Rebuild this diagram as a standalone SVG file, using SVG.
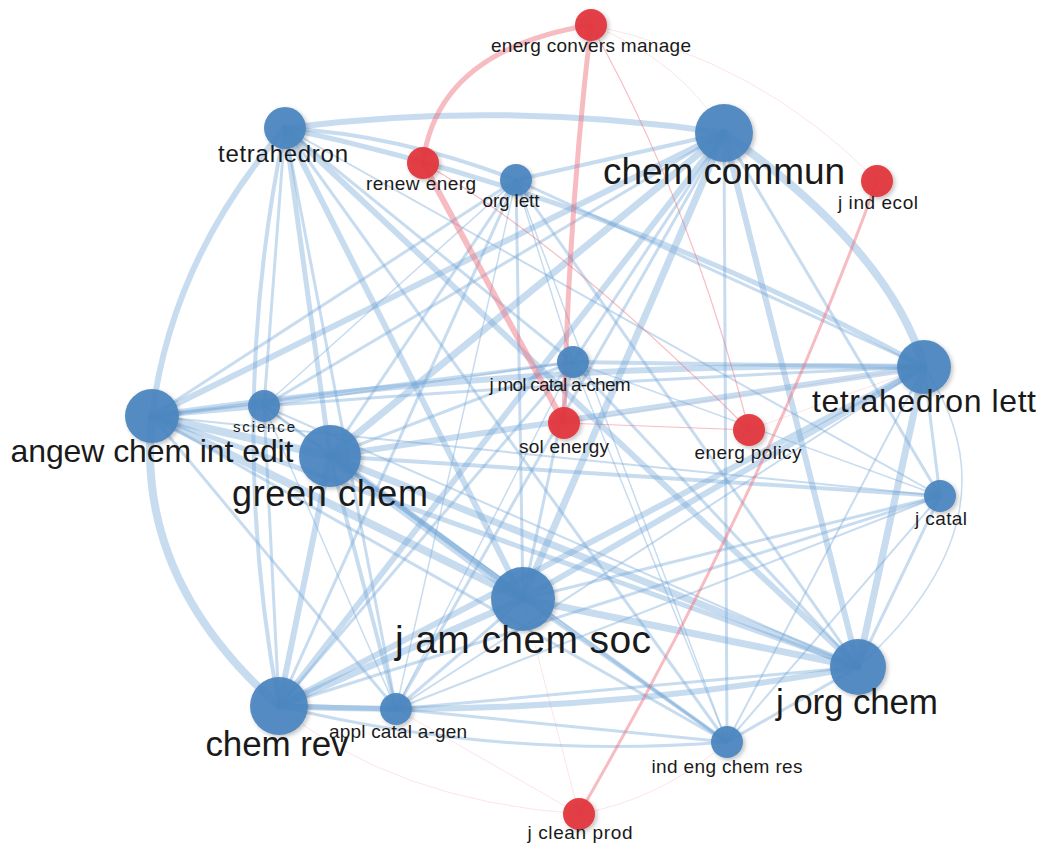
<svg xmlns="http://www.w3.org/2000/svg" width="1041" height="847" viewBox="0 0 1041 847">
<defs>
<style>
.e{fill:none;stroke:#6fa3d6;stroke-opacity:0.38;stroke-linecap:round}
.r{fill:none;stroke:#ee6b77;stroke-opacity:0.45;stroke-linecap:round}
.rf{fill:none;stroke:#ee6b77;stroke-opacity:0.18}
.b{fill:#4a85c0;fill-opacity:0.93;filter:url(#sh)}
.rd{fill:#e3363e;fill-opacity:0.95;filter:url(#sh)}
text{font-family:"Liberation Sans",Arial,Helvetica,sans-serif;fill:#1a1a1a;text-anchor:middle}
.s{font-size:19px}
</style>
<filter id="sh" x="-50%" y="-50%" width="200%" height="200%">
<feDropShadow dx="2" dy="2" stdDeviation="2" flood-color="#000" flood-opacity="0.25"/>
</filter>
</defs>
<rect width="1041" height="847" fill="#fff"/>
<g id="connectors">
<!-- faint red -->
<path class="rf" stroke-width="1" d="M591,25 Q760,60 877,181"/>
<path class="rf" stroke-width="1" d="M591,25 Q680,60 724,133"/>
<path class="rf" stroke-width="1" d="M579,814 Q390,800 279,706"/>
<path class="rf" stroke-width="1" d="M579,814 L523,599"/>
<path class="rf" stroke-width="1" d="M579,814 Q660,800 727,742"/>
<path class="rf" stroke-width="1" d="M579,814 L396,709"/>
<path class="rf" stroke-width="1" d="M564,423 L924,367"/>
<path class="rf" stroke-width="1" d="M749,430 L924,367"/>
<!-- blue -->
<path class="e" stroke-width="8" d="M152,416 Q134,579 279,706"/>
<path class="e" stroke-width="6" d="M285,128 Q172,258 152,416"/>
<path class="e" stroke-width="4" d="M285,128 Q225,417 279,706"/>
<path class="e" stroke-width="3" d="M285,128 L396,709"/>
<path class="e" stroke-width="6" d="M285,128 Q500,100 724,133"/>
<path class="e" stroke-width="4" d="M285,128 Q400,135 516,180"/>
<path class="e" stroke-width="5" d="M285,128 L330,456"/>
<path class="e" stroke-width="6" d="M285,128 L523,599"/>
<path class="e" stroke-width="6" d="M285,128 L858,667"/>
<path class="e" stroke-width="5" d="M285,128 Q620,200 924,367"/>
<path class="e" stroke-width="3" d="M285,128 L264,406"/>
<path class="e" stroke-width="3" d="M285,128 L573,362"/>
<path class="e" stroke-width="3" d="M285,128 L727,742"/>
<path class="e" stroke-width="2" d="M285,128 L940,496"/>
<path class="e" stroke-width="5" d="M152,416 L264,406"/>
<path class="e" stroke-width="8" d="M152,416 L330,456"/>
<path class="e" stroke-width="6" d="M152,416 L724,133"/>
<path class="e" stroke-width="8" d="M152,416 L523,599"/>
<path class="e" stroke-width="6" d="M152,416 Q540,360 924,367"/>
<path class="e" stroke-width="5" d="M152,416 L858,667"/>
<path class="e" stroke-width="3" d="M152,416 L573,362"/>
<path class="e" stroke-width="3" d="M152,416 L396,709"/>
<path class="e" stroke-width="2" d="M152,416 L940,496"/>
<path class="e" stroke-width="3" d="M152,416 L516,180"/>
<path class="e" stroke-width="3" d="M152,416 L727,742"/>
<path class="e" stroke-width="3" d="M264,406 L724,133"/>
<path class="e" stroke-width="3" d="M264,406 Q600,380 924,367"/>
<path class="e" stroke-width="3" d="M264,406 L523,599"/>
<path class="e" stroke-width="3" d="M264,406 L279,706"/>
<path class="e" stroke-width="2" d="M264,406 L858,667"/>
<path class="e" stroke-width="2" d="M264,406 L573,362"/>
<path class="e" stroke-width="1.5" d="M264,406 L396,709"/>
<path class="e" stroke-width="1.5" d="M264,406 L727,742"/>
<path class="e" stroke-width="1.5" d="M264,406 L516,180"/>
<path class="e" stroke-width="7" d="M330,456 L724,133"/>
<path class="e" stroke-width="6" d="M330,456 L924,367"/>
<path class="e" stroke-width="9" d="M330,456 L523,599"/>
<path class="e" stroke-width="7" d="M330,456 L858,667"/>
<path class="e" stroke-width="6" d="M330,456 L279,706"/>
<path class="e" stroke-width="4" d="M330,456 L396,709"/>
<path class="e" stroke-width="4" d="M330,456 L727,742"/>
<path class="e" stroke-width="4" d="M330,456 L940,496"/>
<path class="e" stroke-width="3" d="M330,456 L573,362"/>
<path class="e" stroke-width="3" d="M330,456 L516,180"/>
<path class="e" stroke-width="4" d="M516,180 L724,133"/>
<path class="e" stroke-width="3" d="M516,180 L279,706"/>
<path class="e" stroke-width="3" d="M516,180 L523,599"/>
<path class="e" stroke-width="3" d="M516,180 L858,667"/>
<path class="e" stroke-width="3" d="M516,180 L924,367"/>
<path class="e" stroke-width="1.5" d="M516,180 L396,709"/>
<path class="e" stroke-width="1.5" d="M516,180 L727,742"/>
<path class="e" stroke-width="1.5" d="M516,180 L573,362"/>
<path class="e" stroke-width="8" d="M724,133 Q890,250 924,367"/>
<path class="e" stroke-width="7" d="M724,133 L523,599"/>
<path class="e" stroke-width="6" d="M724,133 L279,706"/>
<path class="e" stroke-width="6" d="M724,133 L858,667"/>
<path class="e" stroke-width="3" d="M724,133 L573,362"/>
<path class="e" stroke-width="3" d="M724,133 L940,496"/>
<path class="e" stroke-width="3" d="M724,133 L727,742"/>
<path class="e" stroke-width="3" d="M724,133 L396,709"/>
<path class="e" stroke-width="4" d="M573,362 L924,367"/>
<path class="e" stroke-width="3" d="M573,362 L523,599"/>
<path class="e" stroke-width="3" d="M573,362 L858,667"/>
<path class="e" stroke-width="3" d="M573,362 L279,706"/>
<path class="e" stroke-width="1.5" d="M573,362 L396,709"/>
<path class="e" stroke-width="1.5" d="M573,362 L727,742"/>
<path class="e" stroke-width="1.5" d="M573,362 L940,496"/>
<path class="e" stroke-width="6" d="M924,367 L523,599"/>
<path class="e" stroke-width="6" d="M924,367 L279,706"/>
<path class="e" stroke-width="7" d="M924,367 L858,667"/>
<path class="e" stroke-width="1.5" d="M924,367 Q1025,517 858,667"/>
<path class="e" stroke-width="3" d="M924,367 L940,496"/>
<path class="e" stroke-width="2" d="M924,367 L727,742"/>
<path class="e" stroke-width="2" d="M924,367 L396,709"/>
<path class="e" stroke-width="3" d="M940,496 L523,599"/>
<path class="e" stroke-width="3" d="M940,496 L858,667"/>
<path class="e" stroke-width="2" d="M940,496 L727,742"/>
<path class="e" stroke-width="3" d="M940,496 L279,706"/>
<path class="e" stroke-width="2" d="M940,496 L396,709"/>
<path class="e" stroke-width="7" d="M523,599 L858,667"/>
<path class="e" stroke-width="7" d="M523,599 L279,706"/>
<path class="e" stroke-width="3" d="M523,599 L396,709"/>
<path class="e" stroke-width="3" d="M523,599 L727,742"/>
<path class="e" stroke-width="6" d="M858,667 Q570,720 279,706"/>
<path class="e" stroke-width="3" d="M858,667 L727,742"/>
<path class="e" stroke-width="3" d="M858,667 L396,709"/>
<path class="e" stroke-width="5" d="M279,706 L396,709"/>
<path class="e" stroke-width="3" d="M279,706 Q500,760 727,742"/>
<path class="e" stroke-width="3" d="M396,709 L727,742"/>
<!-- red -->
<path class="r" stroke-width="5" d="M591,25 Q437,50 423,163"/>
<path class="r" stroke-width="5" d="M591,25 Q568,220 564,423"/>
<path class="r" stroke-width="6" d="M423,163 L564,423"/>
<path class="r" stroke-width="1.2" d="M591,25 Q690,200 749,430"/>
<path class="r" stroke-width="1.2" d="M423,163 Q560,240 749,430"/>
<path class="r" stroke-width="1" d="M564,423 L749,430"/>
<path class="r" stroke-width="3" d="M877,181 Q760,502 579,814"/>
</g>
<g id="n-energ-convers-manage"><circle class="rd" cx="591" cy="25" r="16"/><text class="s" x="591" y="52" textLength="200">energ convers manage</text></g>
<g id="n-tetrahedron"><circle class="b" cx="285" cy="128" r="21"/><text x="283" y="162" font-size="24" textLength="130">tetrahedron</text></g>
<g id="n-renew-energ"><circle class="rd" cx="423" cy="163" r="16"/><text class="s" x="421" y="190" textLength="110">renew energ</text></g>
<g id="n-org-lett"><circle class="b" cx="516" cy="180" r="16"/><text class="s" x="511" y="207" textLength="57">org lett</text></g>
<g id="n-chem-commun"><circle class="b" cx="724" cy="133" r="29"/><text x="724" y="184" font-size="37" textLength="242">chem commun</text></g>
<g id="n-j-ind-ecol"><circle class="rd" cx="877" cy="181" r="16"/><text class="s" x="878" y="209" textLength="80">j ind ecol</text></g>
<g id="n-j-mol-catal"><circle class="b" cx="573" cy="362" r="16"/><text class="s" x="560" y="391" textLength="141">j mol catal a-chem</text></g>
<g id="n-tetrahedron-lett"><circle class="b" cx="924" cy="367" r="27"/><text x="924" y="412" font-size="32" textLength="224">tetrahedron lett</text></g>
<g id="n-angew"><circle class="b" cx="152" cy="416" r="27"/><text x="152" y="462" font-size="32" textLength="283">angew chem int edit</text></g>
<g id="n-science"><circle class="b" cx="264" cy="406" r="16"/><text x="264" y="432" font-size="15" textLength="62">science</text></g>
<g id="n-green-chem"><circle class="b" cx="330" cy="456" r="31"/><text x="330" y="506" font-size="36" textLength="196">green chem</text></g>
<g id="n-sol-energy"><circle class="rd" cx="564" cy="423" r="16"/><text class="s" x="564" y="453" textLength="90">sol energy</text></g>
<g id="n-energ-policy"><circle class="rd" cx="749" cy="430" r="16"/><text class="s" x="748" y="459" textLength="107">energ policy</text></g>
<g id="n-j-catal"><circle class="b" cx="940" cy="496" r="16"/><text class="s" x="941" y="525" textLength="52">j catal</text></g>
<g id="n-j-am-chem-soc"><circle class="b" cx="523" cy="599" r="32"/><text x="523" y="653" font-size="39" textLength="256">j am chem soc</text></g>
<g id="n-j-org-chem"><circle class="b" cx="858" cy="667" r="28"/><text x="857" y="714" font-size="35" textLength="162">j org chem</text></g>
<g id="n-chem-rev"><circle class="b" cx="279" cy="706" r="29"/><text x="277" y="756" font-size="35" textLength="143">chem rev</text></g>
<g id="n-appl-catal"><circle class="b" cx="396" cy="709" r="16"/><text class="s" x="398" y="738" textLength="138">appl catal a-gen</text></g>
<g id="n-ind-eng-chem-res"><circle class="b" cx="727" cy="742" r="16"/><text class="s" x="727" y="773" textLength="151">ind eng chem res</text></g>
<g id="n-j-clean-prod"><circle class="rd" cx="579" cy="814" r="16"/><text class="s" x="580" y="839" textLength="105">j clean prod</text></g>
</svg>
